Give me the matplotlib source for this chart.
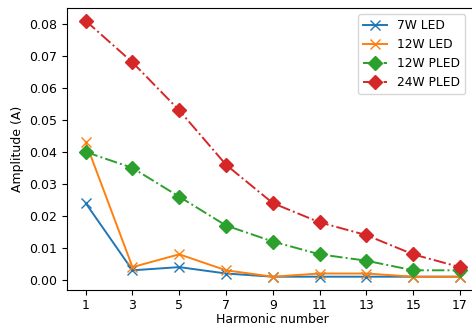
import numpy as np
import matplotlib
matplotlib.use('Agg')
import matplotlib.pyplot as plt

harmonics = [1, 3, 5, 7, 9, 11, 13, 15, 17]
led_7w = [0.024, 0.003, 0.004, 0.002, 0.001, 0.001, 0.001, 0.001, 0.001]
led_12w = [0.043, 0.004, 0.008, 0.003, 0.001, 0.002, 0.002, 0.001, 0.001]
pled_12w = [0.040, 0.035, 0.026, 0.017, 0.012, 0.008, 0.006, 0.003, 0.003]
pled_24w = [0.081, 0.068, 0.053, 0.036, 0.024, 0.018, 0.014, 0.008, 0.004]

plt.rcParams['font.size'] = 9

fig = plt.figure(figsize=(4.72, 3.27), dpi=100)
fig.set_facecolor('w')
# axes runs a little past the right edge, like the cropped original
ax = fig.add_axes([67 / 472, 1 - 289.5 / 327, 411.6 / 472, 281.5 / 327])

lw = 1.4
ax.plot(harmonics, led_7w, '-x', color='tab:blue', lw=lw, ms=6.5, label='7W LED')
ax.plot(harmonics, led_12w, '-x', color='tab:orange', lw=lw, ms=6.5, label='12W LED')
ax.plot(harmonics, pled_12w, '-.D', color='tab:green', lw=lw, ms=7, label='12W PLED')
ax.plot(harmonics, pled_24w, '-.D', color='tab:red', lw=lw, ms=7, label='24W PLED')

ax.set_xticks(harmonics)
ax.tick_params(axis='x', pad=3)
ax.set_xlabel('Harmonic number', labelpad=1)
ax.set_ylabel('Amplitude (A)')
ax.legend(loc='upper right', bbox_to_anchor=(0.982, 1.0), fontsize=8.8)

fig.savefig('out.png', dpi=100)
